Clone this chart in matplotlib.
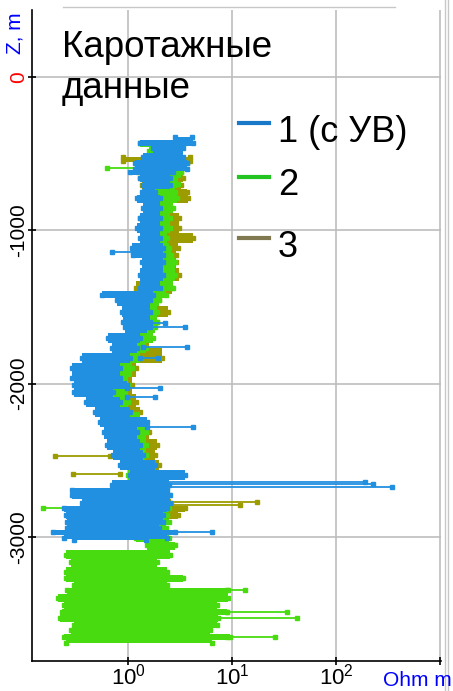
import matplotlib
matplotlib.use("Agg")
import matplotlib.pyplot as plt
from matplotlib.lines import Line2D

plt.rcParams["font.family"] = ["Liberation Sans", "DejaVu Sans"]
plt.rcParams["mathtext.fontset"] = "custom"
plt.rcParams["mathtext.rm"] = "Liberation Sans"

# ---- data: resistivity envelopes (Ohm m) vs depth (m)
blue_depth = [-390, -430, -465, -520, -560, -600, -620, -660, -705, -750, -790, -855, -920,
              -985, -1050, -1115, -1160, -1207, -1290, -1376, -1422, -1455, -1533, -1598,
              -1631, -1703, -1768, -1833, -1898, -1960, -2009, -2055, -2120, -2185, -2250,
              -2316, -2400, -2466, -2531, -2596, -2661, -2694, -2727, -2779, -2811, -2857,
              -2903, -2942, -2968, -3007, -3020]
blue_lo = [2.83, 1.30, 1.74, 1.39, 1.17, 1.17, 1.05, 1.30, 1.39, 1.36, 1.22, 1.39, 1.30,
           1.22, 1.30, 1.09, 1.12, 1.36, 1.30, 1.30, 0.56, 0.78, 0.87, 0.90, 0.94, 0.64,
           0.70, 0.36, 0.29, 0.29, 0.30, 0.30, 0.39, 0.48, 0.54, 0.58, 0.63, 0.72, 0.84,
           1.05, 0.70, 0.29, 0.29, 0.36, 0.24, 0.25, 0.26, 0.26, 0.19, 0.24, 0.30]
blue_hi = [4.12, 4.22, 3.38, 3.38, 3.69, 3.69, 2.71, 2.53, 2.53, 1.82, 2.03, 2.03, 2.03,
           2.03, 2.03, 2.17, 2.17, 2.17, 2.17, 2.03, 1.74, 1.63, 1.63, 1.63, 1.52, 1.30,
           1.22, 1.05, 0.84, 0.84, 0.98, 0.72, 0.84, 1.05, 1.52, 1.22, 1.30, 1.39, 1.82,
           3.5, 2.5, 2.37, 2.53, 2.53, 2.37, 2.17, 2.17, 2.0, 2.83, 2.37, 1.5]
blue_spike_depth = [-1142, -1605, -1631, -1761, -1833, -2029, -2087, -2283, -2640, -2655,
                    -2672, -2968]
blue_spike_from = [0.70, 1.63, 1.63, 1.39, 1.3, 0.98, 0.98, 1.52, 1.05, 1.05, 1.2, 2.0]
blue_spike_to = [1.12, 2.27, 3.53, 3.69, 1.94, 2.03, 1.82, 4.22, 190, 227, 345, 6.42]

green_depth = [-430, -480, -560, -620, -700, -750, -790, -855, -920, -985, -1050, -1115,
               -1160, -1207, -1290, -1376, -1422, -1455, -1533, -1598, -1631, -1703, -1768,
               -1833, -1898, -2009, -2120, -2250, -2316, -2400, -2466, -2531, -2596, -2661,
               -2727, -2779, -2811, -2857, -2903, -2942, -3007, -3053, -3118, -3164, -3229,
               -3268, -3314, -3346, -3399, -3444, -3490, -3529, -3575, -3607, -3653, -3692]
green_lo = [1.30, 1.6, 1.5, 1.5, 1.6, 1.74, 1.74, 1.9, 1.94, 1.94, 1.9, 1.8, 1.8, 1.9, 1.9,
            1.8, 1.5, 1.3, 1.2, 1.1, 1.1, 1.0, 0.9, 0.6, 0.4, 0.4, 0.5, 0.7, 0.8, 0.9, 1.0,
            1.0, 1.0, 0.9, 0.6, 0.5, 0.5, 0.6, 0.8, 0.9, 1.2, 1.52, 0.25, 0.28, 0.25, 0.25,
            0.30, 0.26, 0.21, 0.24, 0.23, 0.22, 0.30, 0.28, 0.24, 0.25]
green_hi = [3.53, 3.0, 3.5, 3.2, 3.0, 2.83, 2.96, 2.71, 2.53, 2.53, 2.37, 2.5, 2.6, 2.83,
            2.83, 2.71, 2.3, 2.0, 1.9, 1.9, 1.8, 1.74, 1.5, 1.3, 1.1, 1.0, 1.0, 1.3, 1.5,
            1.5, 1.5, 1.6, 1.8, 2.0, 2.3, 2.5, 2.5, 2.37, 2.5, 2.3, 2.5, 2.83, 2.53, 1.9,
            2.37, 3.38, 2.37, 9.15, 9.15, 7.17, 9.0, 7.3, 7.17, 6.14, 9.57, 6.42]
green_spike_depth = [-594, -2811, -3346, -3490, -3529, -3653]
green_spike_from = [0.63, 0.152, 9.0, 9.0, 7.0, 9.0]
green_spike_to = [1.22, 0.6, 13.3, 33.8, 42.2, 25.9]

olive_depth = [-520, -545, -561, -600, -620, -660, -705, -750, -790, -855, -920, -985,
               -1050, -1115, -1160, -1207, -1290, -1376, -1455, -1533, -1598, -1703, -1833,
               -1898, -2009, -2120, -2185, -2250, -2316, -2400, -2466, -2531, -2596, -2661,
               -2727, -2779, -2811, -2857, -2903, -2942]
olive_lo = [0.895, 0.9, 1.4, 1.3, 1.25, 1.3, 1.36, 2.2, 2.2, 2.3, 1.3, 1.6, 2.0, 1.7, 1.6,
            1.7, 1.9, 1.2, 1.4, 1.2, 1.1, 1.0, 0.7, 0.5, 0.5, 0.6, 0.8, 0.9, 0.95, 1.0, 1.0,
            1.1, 1.1, 1.0, 0.9, 1.0, 0.9, 0.9, 1.0, 1.1]
olive_hi = [3.95, 3.9, 3.7, 3.0, 3.2, 3.38, 3.2, 3.69, 3.78, 2.6, 3.1, 3.1, 4.2, 3.0, 2.9,
            2.9, 3.1, 2.65, 2.0, 2.4, 1.9, 1.6, 2.1, 1.2, 1.1, 1.2, 1.3, 1.4, 1.6, 1.9, 1.8,
            2.0, 2.3, 2.4, 2.5, 2.6, 3.5, 3.0, 2.2, 1.9]
olive_spike_depth = [-2473, -2590, -2772, -2790]
olive_spike_from = [0.199, 0.296, 1.5, 1.5]
olive_spike_to = [0.67, 0.838, 17.4, 12.0]

x_ticks = [1, 10, 100, 1000]
x_tick_labels = ["$10^0$", "$10^1$", "$10^2$", ""]
y_ticks = [0, -1000, -2000, -3000]
y_tick_labels = ["0", "-1000", "-2000", "-3000"]

legend_labels = ["1 (с УВ)", "2", "3"]

BLUE = "#2290e0"
GREEN = "#48dc10"
OLIVE = "#9c9c00"

fig = plt.figure(figsize=(4.53, 6.91), dpi=100)
ax = fig.add_axes([32 / 453, 30 / 691, 409 / 453, 651 / 691])
ax.set_xscale("log")


def draw_log(depth, lo, hi, sp_d, sp_a, sp_b, color):
    ax.fill_betweenx(depth, lo, hi, step="mid", color=color, lw=0, zorder=2)
    ax.plot(lo, depth, "s", color=color, ms=2.5, zorder=2)
    ax.plot(hi, depth, "s", color=color, ms=2.5, zorder=2)
    for d, a, b in zip(sp_d, sp_a, sp_b):
        ax.plot([a, b], [d, d], "-s", color=color, lw=1.3, ms=3, zorder=2)


draw_log(olive_depth, olive_lo, olive_hi, olive_spike_depth, olive_spike_from,
         olive_spike_to, OLIVE)
draw_log(green_depth, green_lo, green_hi, green_spike_depth, green_spike_from,
         green_spike_to, GREEN)
draw_log(blue_depth, blue_lo, blue_hi, blue_spike_depth, blue_spike_from,
         blue_spike_to, BLUE)

ax.set_xlim(0.119, 1022)
ax.set_ylim(-3809, 437)
ax.set_xticks(x_ticks)
ax.set_xticklabels(x_tick_labels, fontsize=16)
ax.xaxis.set_minor_locator(matplotlib.ticker.NullLocator())
ax.set_yticks(y_ticks)
ax.set_yticklabels(y_tick_labels, fontsize=15, rotation=90, va="center")
ax.get_yticklabels()[0].set_color("red")
ax.tick_params(direction="inout", length=6, width=1.2, color="black")
ax.tick_params(axis="y", pad=0)
ax.tick_params(axis="x", pad=-1)

ax.grid(True, color="#bdbdbd", lw=1.2)
ax.set_axisbelow(True)
for s in ["top", "right"]:
    ax.spines[s].set_visible(False)
for s in ["left", "bottom"]:
    ax.spines[s].set_linewidth(1.2)

# title-like label in the corner
fig.text(62 / 453, 1 - 57 / 691, "Каротажные", fontsize=26.5, va="baseline")
fig.text(62 / 453, 1 - 98 / 691, "данные", fontsize=26.5, va="baseline")

# legend drawn by hand
leg_line_y = [123, 177, 238]
leg_text_y = [142, 195, 257]
leg_colors = ["#1a78c8", "#22c422", "#807850"]
for ly, ty, c, lab in zip(leg_line_y, leg_text_y, leg_colors, legend_labels):
    fig.add_artist(Line2D([239 / 453, 269 / 453], [1 - ly / 691] * 2, color=c, lw=3))
    fig.text(278 / 453, 1 - ty / 691, lab, fontsize=26, va="baseline")

fig.text(15 / 453, 1 - 33 / 691, "Z, m", rotation=90, color="blue", fontsize=15,
         ha="center", va="center")
fig.text(383 / 453, 1 - 686 / 691, "Ohm m", color="blue", fontsize=15, va="baseline")

# panel borders
fig.add_artist(Line2D([444.5 / 453] * 2, [0, 1], color="#c8c8c8", lw=1))
fig.add_artist(Line2D([447.5 / 453] * 2, [0, 1], color="#c8c8c8", lw=1))
fig.add_artist(Line2D([63 / 453, 395 / 453], [1 - 7 / 691] * 2, color="#c8c8c8", lw=1))

fig.savefig("out.png", dpi=100)
